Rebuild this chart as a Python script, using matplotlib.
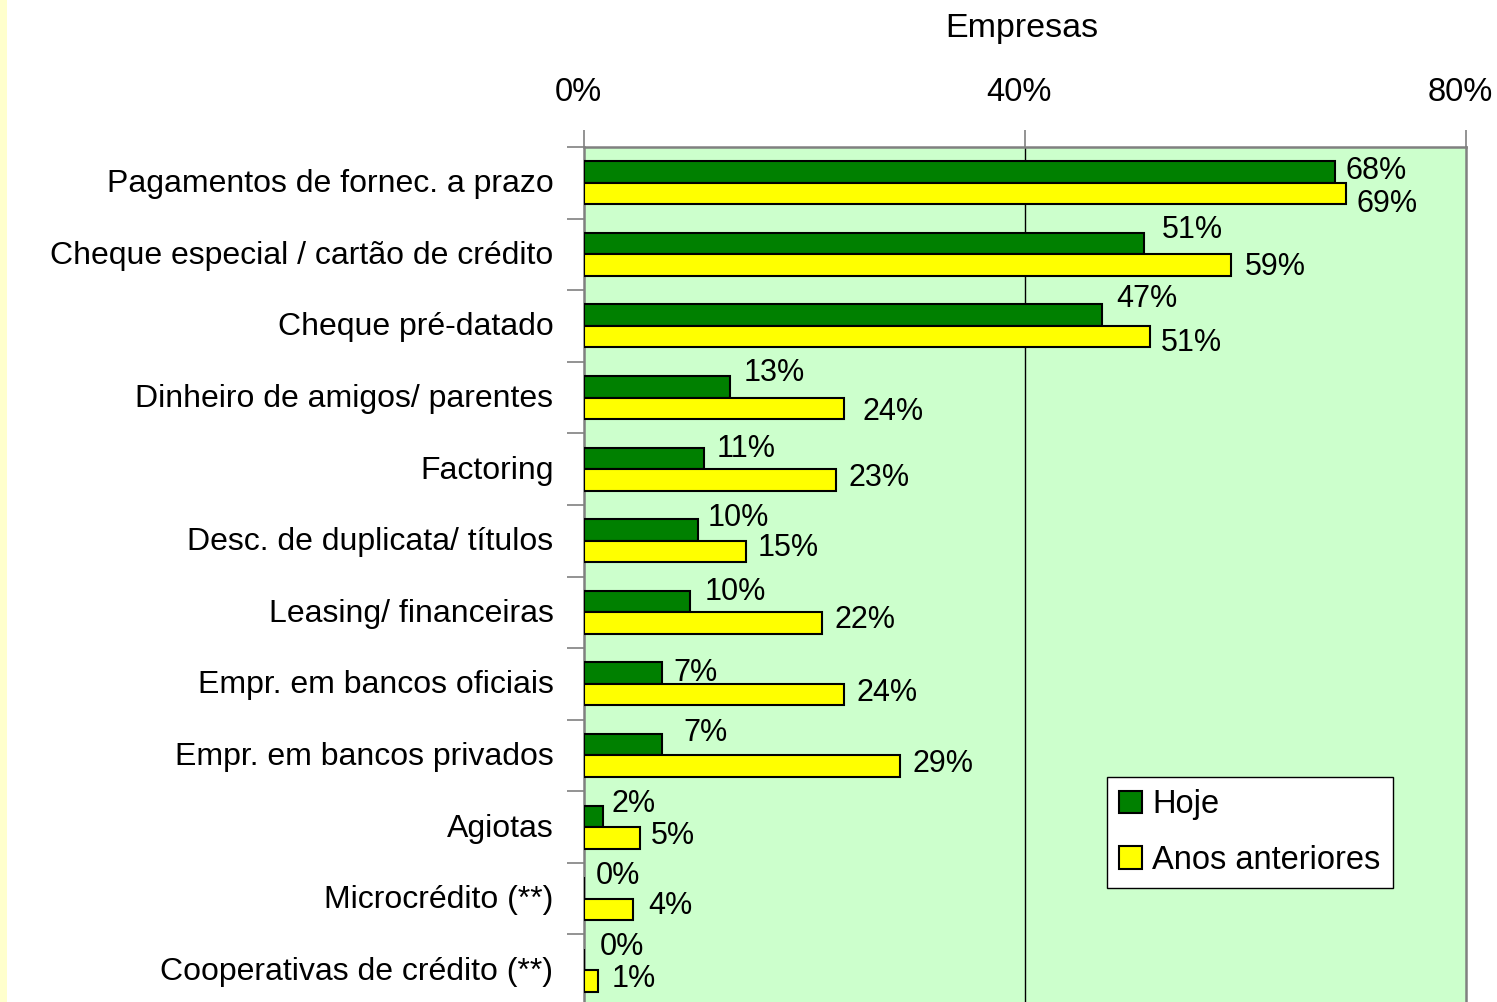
import matplotlib
matplotlib.use("Agg")
import matplotlib.pyplot as plt
from matplotlib.patches import Rectangle
import matplotlib.transforms as mtransforms

plt.rcParams['font.family'] = ['Liberation Sans', 'DejaVu Sans']

categorias = [
    "Pagamentos de fornec. a prazo",
    "Cheque especial / cartão de crédito",
    "Cheque pré-datado",
    "Dinheiro de amigos/ parentes",
    "Factoring",
    "Desc. de duplicata/ títulos",
    "Leasing/ financeiras",
    "Empr. em bancos oficiais",
    "Empr. em bancos privados",
    "Agiotas",
    "Microcrédito (**)",
    "Cooperativas de crédito (**)",
]
hoje = [68.1, 50.8, 47.0, 13.2, 10.9, 10.3, 9.6, 7.1, 7.1, 1.7, 0.0, 0.0]
anos_anteriores = [69.1, 58.7, 51.3, 23.6, 22.9, 14.7, 21.6, 23.6, 28.7, 5.1, 4.4, 1.3]
rotulos_hoje = ["68%", "51%", "47%", "13%", "11%", "10%", "10%", "7%", "7%", "2%", "0%", "0%"]
rotulos_anos = ["69%", "59%", "51%", "24%", "23%", "15%", "22%", "24%", "29%", "5%", "4%", "1%"]
xticks = [0, 40, 80]
xtick_labels = ["0%", "40%", "80%"]

# label offsets (pixels) as placed in the original
dy_hoje = [1, 14, 16, 14, 9, 12, 10, 0, 12, 12, 12, 12]
dy_anos = [-10, -2, -6, -4, 2, 3, 3, 2, 2, 2, 3, 2]
dx_hoje = [11, 18, 14, 14, 12, 10, 15, 11, 21, 9, 12, 16]
dx_anos = [11, 14, 11, 18, 12, 12, 12, 12, 12, 11, 16, 13]

W, H = 1497, 1002
fig = plt.figure(figsize=(W / 100, H / 100), dpi=100, facecolor="white")

fig.patches.append(Rectangle((0, 0), 7 / W, 1, transform=fig.transFigure,
                             facecolor="#FFFFCC", edgecolor="none", zorder=0))

ax_left, ax_right = 584 / W, 1466 / W
ax_top = 1 - 147 / H
ax_bottom = 1 - 1006 / H
ax = fig.add_axes([ax_left, ax_bottom, ax_right - ax_left, ax_top - ax_bottom])
ax.set_facecolor("#CCFFCC")

n = len(categorias)
ys = list(range(n))
bh = 0.30
green = "#008000"
yellow = "#FFFF00"

ax.barh([y - bh / 2 for y in ys], hoje, height=bh, color=green,
        edgecolor="black", linewidth=1.5, zorder=3, label="Hoje")
ax.barh([y + bh / 2 for y in ys], anos_anteriores, height=bh, color=yellow,
        edgecolor="black", linewidth=1.5, zorder=3, label="Anos anteriores")

lab_fs = 22
for i in range(n):
    ax.annotate(rotulos_hoje[i], (hoje[i], i - bh / 2), xytext=(dx_hoje[i], dy_hoje[i]),
                textcoords="offset pixels", ha="left", va="center", fontsize=lab_fs, zorder=5)
    ax.annotate(rotulos_anos[i], (anos_anteriores[i], i + bh / 2), xytext=(dx_anos[i], dy_anos[i]),
                textcoords="offset pixels", ha="left", va="center", fontsize=lab_fs, zorder=5)

ax.set_xlim(0, 80)
ax.set_ylim(n - 0.5, -0.5)

ax.xaxis.tick_top()
ax.set_xticks(xticks)
ax.set_xticklabels(xtick_labels, fontsize=23.5)
ax.tick_params(axis="x", direction="out", length=12, width=1.2, color="#808080", pad=16)
shift = mtransforms.ScaledTranslation(-6 / 100, 0, fig.dpi_scale_trans)
for lbl in ax.get_xticklabels():
    lbl.set_transform(lbl.get_transform() + shift)

ax.set_yticks(ys)
ax.set_yticklabels(categorias, fontsize=23)
ax.tick_params(axis="y", which="major", length=0, pad=22)
ax.set_yticks([y - 0.5 for y in ys] + [n - 0.5], minor=True)
ax.tick_params(axis="y", which="minor", direction="out", length=12, width=1.2, color="#808080")
shift_y = mtransforms.ScaledTranslation(0, 2 / 100, fig.dpi_scale_trans)
for lbl in ax.get_yticklabels():
    lbl.set_transform(lbl.get_transform() + shift_y)

ax.axvline(40, color="black", linewidth=1, zorder=1)

for side in ["left", "top", "right"]:
    ax.spines[side].set_color("#808080")
    ax.spines[side].set_linewidth(1.8)
ax.spines["bottom"].set_visible(False)

fig.text(1022 / W, 1 - 28 / H, "Empresas", ha="center", va="center", fontsize=24.5)

leg = ax.legend(loc="upper left", bbox_to_anchor=((1107 - 584) / 882, 1 - (777 - 147) / 859),
                fontsize=23.5, frameon=True, fancybox=False, edgecolor="black",
                handlelength=0.7, handleheight=0.7, handletextpad=0.3, labelspacing=0.75,
                borderpad=0.38, borderaxespad=0)
leg.get_frame().set_linewidth(1.0)
leg.get_frame().set_facecolor("white")
leg.get_frame().set_alpha(1)

fig.savefig("out.png", dpi=100, facecolor="white")
